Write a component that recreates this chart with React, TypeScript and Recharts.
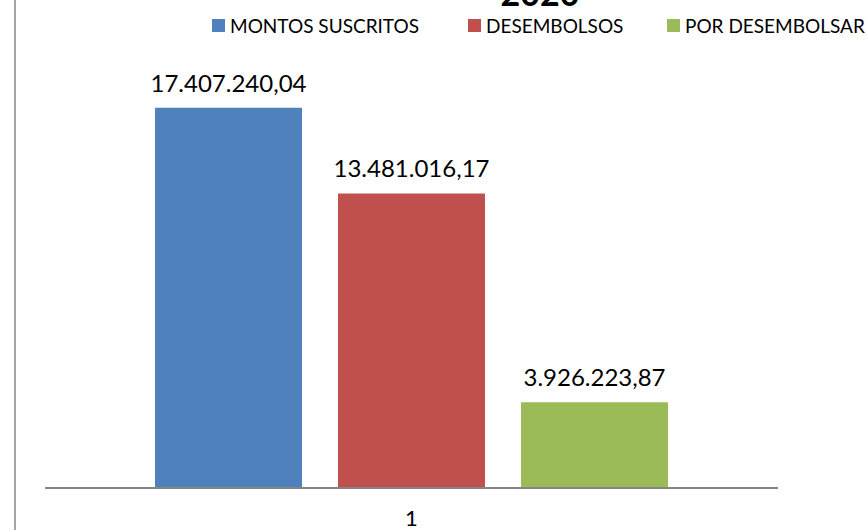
import React from 'react';
import {BarChart, Bar, XAxis, YAxis, Legend, LabelList} from 'recharts';

const categories = ['1'];
const montosSuscritos = [17407240.04];
const desembolsos = [13481016.17];
const porDesembolsar = [3926223.87];

const series = [
  {key: 'montos', name: 'MONTOS SUSCRITOS', color: '#4f81bd'},
  {key: 'desembolsos', name: 'DESEMBOLSOS', color: '#c0504d'},
  {key: 'porDesembolsar', name: 'POR DESEMBOLSAR', color: '#9bbb59'},
];

const data = categories.map((c, i) => ({
  cat: c,
  montos: montosSuscritos[i],
  desembolsos: desembolsos[i],
  porDesembolsar: porDesembolsar[i],
}));

const FONT = 'Lato, "Liberation Sans", sans-serif';
const itemWidths = [256, 199, 200];

// formato español: 17.407.240,04
function fmt(v: number): string {
  const [ent, dec] = v.toFixed(2).split('.');
  return ent.replace(/\B(?=(\d{3})+(?!\d))/g, '.') + ',' + dec;
}

const renderLegend = () => (
  <div style={{display: 'flex', fontFamily: FONT, fontSize: 19, color: '#000'}}>
    {series.map((s, i) => (
      <div
        key={s.key}
        style={{display: 'flex', alignItems: 'center', width: itemWidths[i]}}
      >
        <span
          style={{
            display: 'inline-block',
            width: 13,
            height: 13,
            background: s.color,
            marginRight: 5,
          }}
        />
        <span style={{whiteSpace: 'nowrap'}}>{s.name}</span>
      </div>
    ))}
  </div>
);

const App = () => {
  return (
    <div
      style={{
        position: 'absolute',
        left: 0,
        top: 0,
        width: 867,
        height: 530,
        overflow: 'hidden',
        background: '#fff',
      }}
    >
      <div
        style={{
          position: 'absolute',
          left: 14,
          top: 0,
          width: 2,
          height: 530,
          background: '#a6a6a6',
        }}
      />
      <div
        style={{
          position: 'absolute',
          left: 440,
          width: 200,
          top: -24,
          textAlign: 'center',
          fontFamily: FONT,
          fontWeight: 'bold',
          fontSize: 34,
          lineHeight: '34px',
        }}
      >
        2020
      </div>
      <BarChart
        width={867}
        height={530}
        data={data}
        margin={{top: 28, right: 89, left: 45, bottom: 0}}
        barSize={147}
        barGap={36}
      >
        <XAxis
          dataKey="cat"
          height={42}
          tickLine={false}
          stroke="#868686"
          strokeWidth={2}
          tick={{fill: '#000', fontSize: 22, fontFamily: FONT}}
          tickMargin={16}
        />
        <YAxis hide domain={[0, 20000000]} />
        <Legend
          verticalAlign="top"
          align="left"
          content={renderLegend}
          wrapperStyle={{top: 14, left: 212, width: 'auto'}}
        />
        {series.map((s) => (
          <Bar
            key={s.key}
            dataKey={s.key}
            name={s.name}
            fill={s.color}
            isAnimationActive={false}
          >
            <LabelList
              dataKey={s.key}
              position="top"
              offset={16}
              formatter={(v: any) => fmt(Number(v))}
              style={{fill: '#000', fontSize: 24, fontFamily: FONT}}
            />
          </Bar>
        ))}
      </BarChart>
    </div>
  );
};

export default App;
